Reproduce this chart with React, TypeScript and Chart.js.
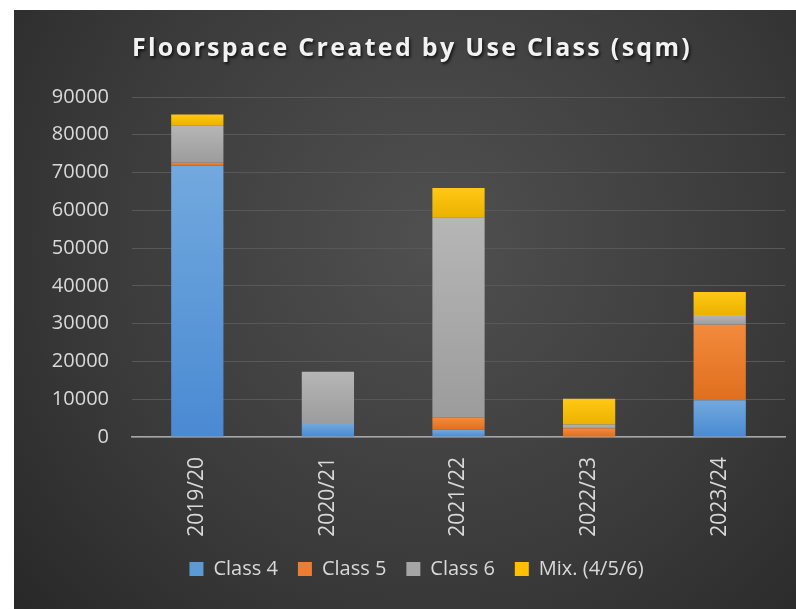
import React, { useEffect, useRef } from "react";
import { Chart, registerables } from "chart.js";

Chart.register(...registerables);

const categories = ["2019/20", "2020/21", "2021/22", "2022/23", "2023/24"];
const class4 = [71900, 3700, 1900, 100, 9700];
const class5 = [700, 0, 3200, 2200, 20000];
const class6 = [9900, 13550, 53100, 1000, 2600];
const mix456 = [2900, 0, 7700, 6800, 6100];
const seriesNames = ["Class 4", "Class 5", "Class 6", "Mix. (4/5/6)"];
const yTicksMax = 90000;
const yTickStep = 10000;
const titleText = "Floorspace Created by Use Class (sqm)";

const allSeries = [class4, class5, class6, mix456];
const palette = [
  { top: "#72a9de", bottom: "#4a8ad3", legend: "#5b9bd5" },
  { top: "#f38a3c", bottom: "#df6f1e", legend: "#ed7d31" },
  { top: "#b6b6b6", bottom: "#9c9c9c", legend: "#a5a5a5" },
  { top: "#ffc814", bottom: "#ebb300", legend: "#ffc000" },
];

const FONT = "'Open Sans', 'Noto Sans', sans-serif";

export default function App() {
  const ref = useRef<HTMLCanvasElement | null>(null);

  useEffect(() => {
    if (!ref.current) return;

    const segFill = (di: number) => (ctx: any) => {
      const chart = ctx.chart;
      const area = chart.chartArea;
      const y = chart.scales?.y;
      const idx = ctx.dataIndex;
      if (!area || !y || idx === undefined) return palette[di].legend;
      let start = 0;
      for (let k = 0; k < di; k++) start += allSeries[k][idx] || 0;
      const end = start + (allSeries[di][idx] || 0);
      const pTop = y.getPixelForValue(end);
      const pBot = y.getPixelForValue(start);
      if (!isFinite(pTop) || !isFinite(pBot) || Math.abs(pBot - pTop) < 0.5)
        return palette[di].legend;
      const g = chart.ctx.createLinearGradient(0, pTop, 0, pBot);
      g.addColorStop(0, palette[di].top);
      g.addColorStop(1, palette[di].bottom);
      return g;
    };

    const bgPlugin = {
      id: "bgPlugin",
      beforeDraw(chart: any) {
        const c = chart.ctx;
        const w = chart.width;
        const h = chart.height;
        c.save();
        const g = c.createRadialGradient(420, 230, 0, 420, 230, 620);
        g.addColorStop(0, "#505050");
        g.addColorStop(0.55, "#3a3a3a");
        g.addColorStop(1, "#232323");
        c.fillStyle = g;
        c.fillRect(0, 0, w, h);
        c.restore();
      },
    };

    const titlePlugin = {
      id: "titlePlugin",
      afterDraw(chart: any) {
        const c = chart.ctx;
        c.save();
        c.font = `bold 25px ${FONT}`;
        (c as any).letterSpacing = "2.3px";
        c.textAlign = "center";
        c.textBaseline = "middle";
        c.shadowColor = "rgba(0,0,0,0.7)";
        c.shadowBlur = 3;
        c.shadowOffsetX = 1.5;
        c.shadowOffsetY = 1.5;
        c.fillStyle = "#f2f2f2";
        c.fillText(titleText, 398, 39);
        c.restore();
      },
    };

    const chart = new Chart(ref.current, {
      type: "bar",
      data: {
        labels: categories,
        datasets: allSeries.map((d, i) => ({
          label: seriesNames[i],
          data: d,
          backgroundColor: segFill(i) as any,
          borderWidth: 0,
          categoryPercentage: 1,
          barPercentage: 0.4,
        })),
      },
      options: {
        responsive: false,
        animation: false,
        events: [],
        layout: { padding: { left: 34, right: 11, top: 87, bottom: 20 } },
        plugins: {
          title: { display: false },
          tooltip: { enabled: false },
          legend: {
            position: "bottom",
            labels: {
              color: "#d9d9d9",
              font: { family: FONT, size: 20 },
              boxWidth: 14,
              boxHeight: 14,
              padding: 20,
              generateLabels: () =>
                seriesNames.map((n, i) => ({
                  text: n,
                  fillStyle: palette[i].legend,
                  strokeStyle: palette[i].legend,
                  lineWidth: 0,
                  fontColor: "#d9d9d9",
                  datasetIndex: i,
                  hidden: false,
                })),
            },
          },
        },
        scales: {
          x: {
            stacked: true,
            grid: { display: false },
            border: { color: "#a6a6a6", width: 1.5 },
            ticks: {
              color: "#d9d9d9",
              font: { family: FONT, size: 21 },
              minRotation: 90,
              maxRotation: 90,
              padding: 12,
            },
            afterFit(scale: any) {
              scale.height = 102;
            },
          },
          y: {
            stacked: true,
            min: 0,
            max: yTicksMax,
            border: { display: false },
            grid: { color: "#585858", lineWidth: 1, drawTicks: false },
            ticks: {
              stepSize: yTickStep,
              color: "#d9d9d9",
              font: { family: FONT, size: 20 },
              padding: 23,
              callback: (v: any) => String(v),
            },
            afterFit(scale: any) {
              scale.width = 84;
            },
          },
        },
      },
      plugins: [bgPlugin, titlePlugin],
    });

    return () => chart.destroy();
  }, []);

  return (
    <div style={{ position: "fixed", left: 14, top: 10, width: 782, height: 599 }}>
      <canvas ref={ref} width={782} height={599} style={{ display: "block" }} />
    </div>
  );
}
